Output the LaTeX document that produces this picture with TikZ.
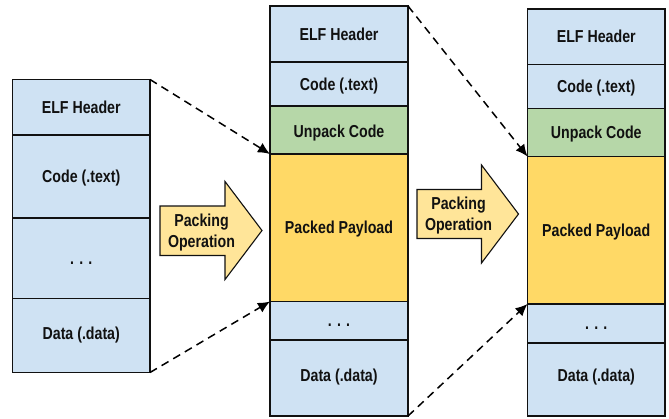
\documentclass[tikz,border=0pt]{standalone}
\usepackage{fontspec}
\setmainfont[FakeStretch=0.82]{Liberation Sans}
\usetikzlibrary{arrows.meta}
\definecolor{cellblue}{HTML}{CFE2F3}
\definecolor{cellgreen}{HTML}{B6D7A8}
\definecolor{cellyellow}{HTML}{FFD966}
\definecolor{arrowyellow}{HTML}{FFE599}
\definecolor{ink}{HTML}{111111}
\tikzset{
  cell/.style={draw=ink,line width=1.1pt,inner sep=0pt,outer sep=0pt,anchor=north west,
    text height=12pt,text depth=0pt,
    font=\fontsize{17.3}{18}\selectfont\bfseries,text=ink},
  bluecell/.style={cell,fill=cellblue},
  greencell/.style={cell,fill=cellgreen},
  yellowcell/.style={cell,fill=cellyellow},
  flowtip/.style={draw=ink,line width=1.1pt,fill=arrowyellow,line join=miter},
  flowtext/.style={font=\fontsize{17.3}{21.7}\selectfont\bfseries,text=ink,align=center,inner sep=0pt},
  mapline/.style={draw=black,line width=1.5pt,dash pattern=on 8pt off 5.5pt,-{Latex[length=12pt,width=11pt]}},
}
\begin{document}
\begin{tikzpicture}[x=1pt,y=-1pt]
\useasboundingbox (0,0) rectangle (669,418);
\fill[white] (0,0) rectangle (669,418);
% left stack
\node[bluecell,minimum width=137.5pt,minimum height=55.5pt] (a1) at (12.5,79.5) {ELF Header};
\node[bluecell,minimum width=137.5pt,minimum height=83pt] (a2) at (12.5,135) {Code (.text)};
\node[bluecell,minimum width=137.5pt,minimum height=80.5pt] (a3) at (12.5,218) {. . .};
\node[bluecell,minimum width=137.5pt,minimum height=74pt,text depth=5pt] (a4) at (12.5,298.5) {Data (.data)};
% middle stack
\node[bluecell,minimum width=138pt,minimum height=56pt] (b1) at (270,6) {ELF Header};
\node[bluecell,minimum width=138pt,minimum height=44pt] (b2) at (270,62) {Code (.text)};
\node[greencell,minimum width=138pt,minimum height=48pt,text height=14pt] (b3) at (270,106) {Unpack Code};
\node[yellowcell,minimum width=138pt,minimum height=147.5pt] (b4) at (270,154) {Packed Payload};
\node[bluecell,minimum width=138pt,minimum height=38.5pt] (b5) at (270,301.5) {. . .};
\node[bluecell,minimum width=138pt,minimum height=76pt,text depth=4.6pt] (b6) at (270,340) {Data (.data)};
% right stack
\node[bluecell,minimum width=137.5pt,minimum height=55.5pt] (c1) at (527.5,9) {ELF Header};
\node[bluecell,minimum width=137.5pt,minimum height=44pt] (c2) at (527.5,64.5) {Code (.text)};
\node[greencell,minimum width=137.5pt,minimum height=48pt] (c3) at (527.5,108.5) {Unpack Code};
\node[yellowcell,minimum width=137.5pt,minimum height=147.5pt] (c4) at (527.5,156.5) {Packed Payload};
\node[bluecell,minimum width=137.5pt,minimum height=39pt] (c5) at (527.5,304) {. . .};
\node[bluecell,minimum width=137.5pt,minimum height=73pt,text depth=7.6pt] (c6) at (527.5,343) {Data (.data)};
% packing arrows
\draw[flowtip] (160,206) -- (225,206) -- (225,181.5) -- (262,230.5) -- (225,279.5) -- (225,255.5) -- (160,255.5) -- cycle;
\node[flowtext] (p1) at (201.5,232.5) {Packing\\Operation};
\draw[flowtip] (417,189.5) -- (481.5,189.5) -- (481.5,165) -- (518.5,214) -- (481.5,263) -- (481.5,238.5) -- (417,238.5) -- cycle;
\node[flowtext] (p2) at (458.5,215.5) {Packing\\Operation};
% dashed mappings
\draw[mapline] (a1.north east) -- (b4.north west);
\draw[mapline] (a4.south east) -- (b4.south west);
\draw[mapline] (b1.north east) -- (c4.north west);
\draw[mapline] (b6.south east) -- (c4.south west);
\end{tikzpicture}
\end{document}
